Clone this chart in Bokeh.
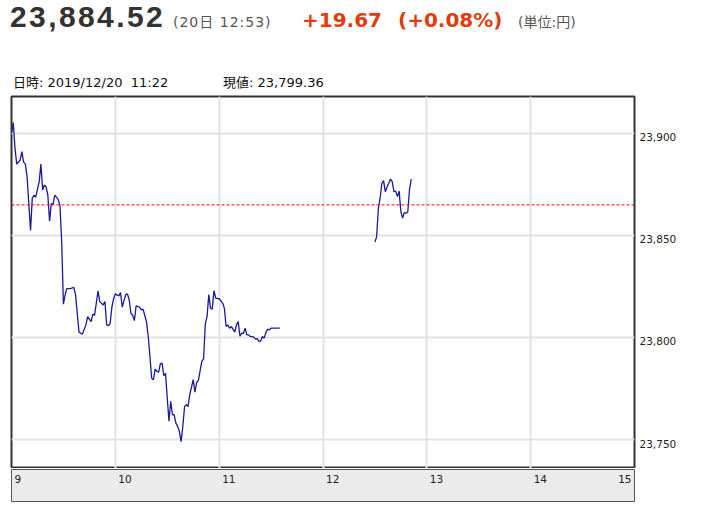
from bokeh.plotting import figure
from bokeh.models import ColumnDataSource, Range1d, Label, Span, Grid, FixedTicker, LinearAxis, Div
from bokeh.layouts import column
from bokeh.embed import file_html
from bokeh.resources import INLINE

# ---- data ----
am_times = ["09:00", "09:01", "09:02", "09:03", "09:05", "09:06", "09:07", "09:08", "09:09",
            "09:11", "09:12", "09:13", "09:14", "09:16", "09:17", "09:18", "09:19", "09:20", "09:21",
            "09:22", "09:23", "09:24", "09:25", "09:27", "09:28", "09:29", "09:30", "09:31", "09:32",
            "09:34", "09:36", "09:37", "09:39", "09:40", "09:41", "09:43", "09:44", "09:46", "09:47",
            "09:48", "09:50", "09:51", "09:53", "09:54", "09:55", "09:56", "09:57", "09:58", "09:59",
            "10:00", "10:02", "10:03", "10:04", "10:06", "10:07", "10:08", "10:09", "10:10", "10:11",
            "10:12", "10:14", "10:15", "10:16", "10:17", "10:18", "10:19", "10:20", "10:21", "10:22",
            "10:23", "10:24", "10:25", "10:26", "10:27", "10:28", "10:29", "10:30", "10:31", "10:32",
            "10:33", "10:34", "10:35", "10:36", "10:37", "10:38", "10:39", "10:40", "10:41", "10:42",
            "10:43", "10:45", "10:46", "10:47", "10:48", "10:50", "10:51", "10:52", "10:53", "10:54",
            "10:55", "10:56", "10:57", "10:58", "11:00", "11:01", "11:02", "11:03", "11:04", "11:05",
            "11:06", "11:07", "11:08", "11:09", "11:10", "11:11", "11:12", "11:13", "11:14", "11:15",
            "11:16", "11:17", "11:18", "11:19", "11:20", "11:21", "11:22", "11:23", "11:24", "11:25",
            "11:26", "11:27", "11:28", "11:29", "11:30", "11:35"]
am_values = [23900, 23905.1, 23892.9, 23884.8, 23886.8, 23890.9, 23885.8, 23884.8, 23878.7,
             23852.3, 23868.1, 23869.6, 23868.6, 23876.2, 23884.8, 23872.1, 23874.6, 23873.6, 23869.6,
             23857.0, 23865.5, 23865.1, 23869.6, 23867.5, 23864.5, 23846.9, 23816.2, 23820.9, 23823.9,
             23823.9, 23824.5, 23820.9, 23802.6, 23802.0, 23801.6, 23806.1, 23810.1, 23807.7, 23811.4,
             23810.8, 23822.7, 23817.5, 23815.8, 23817.5, 23806.1, 23805.7, 23806.7, 23814.8, 23818.9,
             23821.3, 23820.3, 23821.9, 23814.8, 23820.9, 23821.3, 23818.4, 23811.8, 23810.8, 23808.2,
             23815.4, 23814.8, 23813.5, 23813.8, 23810.8, 23807.7, 23800.4, 23790.5, 23780.0, 23779.3,
             23784.4, 23783.4, 23782.9, 23787.0, 23787.4, 23781.3, 23782.4, 23770.2, 23759.0, 23768.7,
             23762.1, 23762.1, 23758.0, 23756.4, 23754.0, 23748.9, 23756.4, 23766.1, 23767.1, 23766.1,
             23771.9, 23779.3, 23773.2, 23777.9, 23778.9, 23788.4, 23789.4, 23806.7, 23810.1, 23820.9,
             23814.3, 23813.8, 23822.9, 23819.2, 23818.9, 23817.9, 23816.8, 23814.3, 23805.3, 23806.1,
             23804.5, 23805.3, 23804.0, 23802.6, 23806.1, 23807.7, 23800.6, 23802.0, 23802.0, 23804.5,
             23801.2, 23801.2, 23800.4, 23800.4, 23800.1, 23799.1, 23799.36, 23798.0, 23798.2, 23800.4,
             23799.6, 23802.3, 23804.0, 23803.7, 23804.5, 23804.5]

pm_times = ["12:30", "12:31", "12:32", "12:33", "12:34", "12:35", "12:36", "12:37", "12:38", "12:39",
            "12:40", "12:41", "12:42", "12:43", "12:44", "12:45", "12:46", "12:47", "12:48", "12:49",
            "12:50", "12:51"]
pm_values = [23846.6, 23849.3, 23863.2, 23868.1, 23875.4, 23876.7, 23871.3, 23873.6, 23875.4, 23877.5,
             23876.2, 23871.3, 23871.6, 23868.9, 23871.6, 23861.5, 23858.4, 23861.1, 23860.8, 23861.5,
             23872.6, 23877.4]

prev_close = 23864.85
y_ticks = [23750, 23800, 23850, 23900]
y_tick_labels = ["23,750", "23,800", "23,850", "23,900"]
x_ticks = [9, 10, 11, 12, 13, 14, 15]
x_tick_labels = ["9", "10", "11", "12", "13", "14", "15"]

price_text = "23,884.52"
time_text = "(20日 12:53)"
change_text = "+19.67"
pct_text = "(+0.08%)"
unit_text = "(単位:円)"
hover_date_text = "日時: 2019/12/20&nbsp;&nbsp;11:22"
hover_value_text = "現値: 23,799.36"


def to_hours(t):
    h, m = t.split(":")
    return int(h) + int(m) / 60.0


am_src = ColumnDataSource(dict(x=[to_hours(t) for t in am_times], y=am_values))
pm_src = ColumnDataSource(dict(x=[to_hours(t) for t in pm_times], y=pm_values))

AX = "DejaVu Sans"
SANS = "'DejaVu Sans', 'Noto Sans CJK JP', sans-serif"

# ---- header (HTML) ----
def span(left, top, size, color, text, family=SANS, bold=False, ls=0, lh="1"):
    return ('<span style="position:absolute;left:%dpx;top:%dpx;font-family:%s;font-size:%spx;'
            'line-height:%s;white-space:nowrap;color:%s;font-weight:%s;letter-spacing:%spx;">%s</span>'
            % (left, top, family, size, lh, color, "bold" if bold else "normal", ls, text))

HEAD_H = 92
header_html = ('<div style="position:relative;width:714px;height:%dpx;">' % HEAD_H
               + span(10, 0, 30, "#333333", price_text, "'Liberation Sans', sans-serif", True, 2.4, "normal")
               + span(173, 15, 14, "#555555", time_text, SANS, False, 1)
               + span(302, 10, 20, "#e33c0c", change_text, SANS, True)
               + span(398, 10, 20, "#e33c0c", pct_text, SANS, True)
               + span(518, 15, 14, "#555555", unit_text, SANS)
               + span(13, 76, 13, "#111111", hover_date_text, SANS)
               + span(223, 76, 13, "#111111", hover_value_text, SANS)
               + '</div>')
header = Div(text=header_html, width=714, height=HEAD_H, margin=0)

# ---- main chart ----
FW, FH = 623, 372
p = figure(frame_width=FW, frame_height=FH, x_range=Range1d(9, 15),
           y_range=Range1d(23735.8, 23917.9), x_axis_location=None, y_axis_location=None,
           min_border_left=11, min_border_right=80, min_border_top=4, min_border_bottom=0,
           output_backend="svg", toolbar_location=None, title=None,
           outline_line_color="#333333", outline_line_width=2,
           background_fill_color="white", border_fill_color="white")
p.center = [r for r in p.center if not isinstance(r, Grid)]
p.add_layout(Grid(dimension=0, ticker=FixedTicker(ticks=x_ticks[1:-1]),
                  grid_line_color="#e3e3e3", grid_line_width=2))
p.add_layout(Grid(dimension=1, ticker=FixedTicker(ticks=y_ticks),
                  grid_line_color="#e3e3e3", grid_line_width=2))
p.add_layout(Span(location=prev_close, dimension="width", line_color="#ff0000",
                  line_dash="3 2", line_width=1))

p.line("x", "y", source=am_src, line_color="#1a1a98", line_width=1.3)
p.line("x", "y", source=pm_src, line_color="#1a1a98", line_width=1.3)

# right axis: labels hang just below each gridline
LABEL_DROP = 2.0
shifted = [t - LABEL_DROP for t in y_ticks]
yax = LinearAxis(ticker=FixedTicker(ticks=shifted),
                 major_label_overrides={s: lab for s, lab in zip(shifted, y_tick_labels)},
                 axis_line_color=None, major_tick_line_color=None, minor_tick_line_color=None,
                 major_tick_in=0, major_tick_out=0, major_label_standoff=5,
                 major_label_text_font=AX, major_label_text_font_size="10.5px",
                 major_label_text_color="#222222")
p.add_layout(yax, "right")

# ---- bottom time band ----
BH = 32
b = figure(frame_width=FW, frame_height=BH, x_range=p.x_range, y_range=Range1d(0, 1),
           x_axis_location=None, y_axis_location=None,
           min_border_left=11, min_border_right=80, min_border_top=1, min_border_bottom=2,
           output_backend="svg", toolbar_location=None, title=None,
           background_fill_color="#ebebeb", border_fill_color="white",
           outline_line_color="#555555", outline_line_width=1)
b.center = [r for r in b.center if not isinstance(r, Grid)]
for v, lab in zip(x_ticks, x_tick_labels):
    last = v == x_ticks[-1]
    b.add_layout(Label(x=v, x_units="data", y=BH - 5, y_units="screen", text=lab,
                       text_font=AX, text_font_size="10.5px", text_color="#222222",
                       text_baseline="top", text_align="right" if last else "left",
                       x_offset=-3 if last else 3))

layout = column(header, p, b, spacing=0)
open("out.html", "w").write(file_html(layout, INLINE))
